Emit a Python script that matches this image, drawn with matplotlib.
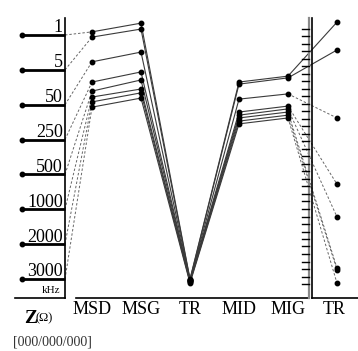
import numpy as np
import matplotlib
matplotlib.use('Agg')
import matplotlib.pyplot as plt
from matplotlib import font_manager

names = {f.name for f in font_manager.fontManager.ttflist}
serif = 'Liberation Serif' if 'Liberation Serif' in names else 'DejaVu Serif'
plt.rcParams['font.family'] = 'serif'
plt.rcParams['font.serif'] = [serif, 'DejaVu Serif']

# frequency levels on the left scale (kHz)
freq_labels = ['1', '5', '50', '250', '500', '1000', '2000', '3000']
columns = ['MSD', 'MSG', 'TR', 'MID', 'MIG', 'TR']

# position of each frequency line at each column, in left-scale level units
msd = [-0.09, 0.06, 0.77, 1.35, 1.61, 1.78, 1.92, 2.07]
msg = [-0.34, -0.17, 0.49, 1.06, 1.29, 1.55, 1.66, 1.81]
tr1 = [7.00, 7.02, 7.03, 7.04, 7.06, 7.07, 7.09, 7.12]
mid = [1.35, 1.41, 1.84, 2.21, 2.30, 2.38, 2.47, 2.55]
mig = [1.18, 1.23, 1.69, 2.04, 2.12, 2.21, 2.30, 2.38]
tr2 = [-0.37, 0.43, 2.38, 4.28, 5.22, 6.69, 6.74, 7.12]
solid_last = [True, True, False, False, False, False, False, False]

W, H = 358, 351
fig = plt.figure(figsize=(W / 100, H / 100), dpi=100)
ax = fig.add_axes([0, 0, 1, 1])
ax.axis('off')

# pixel <-> data helpers (column spacing 49 px, level spacing 34.85 px)
X0, DX = 92, 49.0
Y0, DY = 35, 34.85
px = lambda v: (v - X0) / DX
py = lambda v: (v - Y0) / DY
ax.set_xlim(px(0), px(W))
ax.set_ylim(py(H), py(0))

lc = '#3a3a3a'
dc = '#666666'
dot = dict(marker='o', ms=3.2, color='black', ls='none', zorder=5)

cols = np.array([msd, msg, tr1, mid, mig, tr2])
xs = np.arange(len(columns))
x_axis = px(65)

for i, lab in enumerate(freq_labels):
    # thick tick on the left scale with a dot at its end
    ax.plot([px(22), x_axis], [i, i], color='black', lw=2.0, solid_capstyle='butt')
    ax.plot([px(22)], [i], **dot)
    ax.text(px(63), i - 2.5 / DY, lab, ha='right', va='baseline', fontsize=13)
    # dashed link from the scale to MSD
    ax.plot([x_axis, xs[0]], [i, cols[0, i]], color=dc, lw=0.7, dashes=(2.5, 2))
    # solid path through MSD .. MIG
    ax.plot(xs[:5], cols[:5, i], color=lc, lw=0.8)
    # last segment to right TR
    if solid_last[i]:
        ax.plot(xs[4:6], cols[4:6, i], color=lc, lw=0.8)
    else:
        ax.plot(xs[4:6], cols[4:6, i], color=dc, lw=0.7, dashes=(2.5, 2))
    ax.plot(xs, cols[:, i], **dot)

# frame lines
ax.plot([x_axis, x_axis], [py(18), py(298)], color='black', lw=1.2)
ax.plot([px(15), x_axis], [py(298), py(298)], color='black', lw=1.2)
ax.plot([px(76), px(309)], [py(297.5), py(297.5)], color='black', lw=1.2)
ax.plot([px(309), px(309)], [py(18), py(298)], color='#8a8a8a', lw=1.6)
ax.plot([px(311.8), px(311.8)], [py(18), py(298)], color='black', lw=1.2)
ax.plot([px(311.8), px(W)], [py(298), py(298)], color='black', lw=1.2)
for t in np.arange(29, 288, 7.5):
    ax.plot([px(302), px(309)], [py(t), py(t)], color='black', lw=1.0)

# category labels
for j, c in enumerate(columns):
    xc = xs[j] if j < 5 else px(334)
    ax.text(xc, py(314), c, ha='center', va='baseline', fontsize=13)

ax.text(px(60), py(293), 'kHz', ha='right', va='baseline', fontsize=8)
ax.text(px(24), py(323), 'Z', ha='left', va='baseline', fontsize=14, fontweight='bold')
ax.text(px(36), py(321), '(\u03a9)', ha='left', va='baseline', fontsize=9)
ax.text(px(13), py(345), '[000/000/000]', ha='left', va='baseline', fontsize=10, color='#333333')

fig.savefig('out.png', dpi=100)
